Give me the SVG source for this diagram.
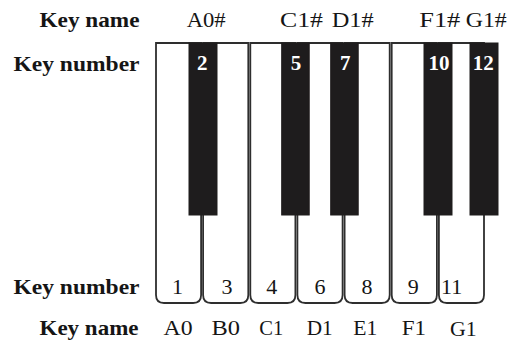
<svg xmlns="http://www.w3.org/2000/svg" width="508" height="343" viewBox="0 0 508 343">
  <style>
    .lbl { font-family: "Liberation Serif", "Times New Roman", serif; font-size: 21px; font-weight: bold; fill: #151515; }
    .note { font-family: "Liberation Serif", "Times New Roman", serif; font-size: 21px; fill: #151515; }
    .num { font-family: "Liberation Serif", "Times New Roman", serif; font-size: 22px; fill: #151515; text-anchor: middle; }
    .bnum { font-family: "Liberation Serif", "Times New Roman", serif; font-size: 21px; font-weight: bold; fill: #ffffff; text-anchor: middle; }
    .white { fill: #ffffff; stroke: #2e2e2e; stroke-width: 1.8; }
    .black { fill: #1e1c1d; stroke: #1e1c1d; stroke-width: 1; }
  </style>

  <!-- row labels -->
  <g id="row-labels">
    <text class="lbl" x="39.5" y="27" textLength="100" lengthAdjust="spacingAndGlyphs">Key name</text>
    <text class="lbl" x="13.5" y="71" textLength="126" lengthAdjust="spacingAndGlyphs">Key number</text>
    <text class="lbl" x="13.5" y="294" textLength="126" lengthAdjust="spacingAndGlyphs">Key number</text>
    <text class="lbl" x="39.5" y="335" textLength="99" lengthAdjust="spacingAndGlyphs">Key name</text>
  </g>

  <!-- white keys: straight top, rounded bottom corners -->
  <g id="key-A0">
    <path class="white" d="M156,43 V295 Q156,303 164,303 H193.1 Q201.1,303 201.1,295 V43 Z"/>
    <text class="num" x="177.5" y="294">1</text>
    <text class="note" x="163.5" y="335" textLength="29" lengthAdjust="spacingAndGlyphs">A0</text>
  </g>
  <g id="key-B0">
    <path class="white" d="M203.1,43 V295 Q203.1,303 211.1,303 H240.3 Q248.3,303 248.3,295 V43 Z"/>
    <text class="num" x="227" y="294">3</text>
    <text class="note" x="211.5" y="335" textLength="28.5" lengthAdjust="spacingAndGlyphs">B0</text>
  </g>
  <g id="key-C1">
    <path class="white" d="M250.3,43 V295 Q250.3,303 258.3,303 H287.4 Q295.4,303 295.4,295 V43 Z"/>
    <text class="num" x="271.7" y="294">4</text>
    <text class="note" x="259.3" y="335" textLength="24" lengthAdjust="spacingAndGlyphs">C1</text>
  </g>
  <g id="key-D1">
    <path class="white" d="M297.4,43 V295 Q297.4,303 305.4,303 H334.6 Q342.6,303 342.6,295 V43 Z"/>
    <text class="num" x="320" y="294">6</text>
    <text class="note" x="306.7" y="335" textLength="26" lengthAdjust="spacingAndGlyphs">D1</text>
  </g>
  <g id="key-E1">
    <path class="white" d="M344.6,43 V295 Q344.6,303 352.6,303 H381.7 Q389.7,303 389.7,295 V43 Z"/>
    <text class="num" x="367" y="294">8</text>
    <text class="note" x="353.3" y="335" textLength="24" lengthAdjust="spacingAndGlyphs">E1</text>
  </g>
  <g id="key-F1">
    <path class="white" d="M391.7,43 V295 Q391.7,303 399.7,303 H428.9 Q436.9,303 436.9,295 V43 Z"/>
    <text class="num" x="413.3" y="294">9</text>
    <text class="note" x="401.7" y="335" textLength="24.3" lengthAdjust="spacingAndGlyphs">F1</text>
  </g>
  <g id="key-G1">
    <path class="white" d="M438.9,43 V295 Q438.9,303 446.9,303 H476 Q484,303 484,295 V43 Z"/>
    <text class="num" x="451.7" y="294">11</text>
    <text class="note" x="450" y="336" textLength="26.7" lengthAdjust="spacingAndGlyphs">G1</text>
  </g>

  <!-- black keys -->
  <g id="key-A0s">
    <rect class="black" x="189" y="43" width="28" height="172"/>
    <text class="bnum" x="202.3" y="70">2</text>
    <text class="note" x="186.7" y="27" textLength="39" lengthAdjust="spacingAndGlyphs">A0#</text>
  </g>
  <g id="key-C1s">
    <rect class="black" x="281.7" y="43" width="27.5" height="172"/>
    <text class="bnum" x="296" y="70">5</text>
    <text class="note" x="280" y="27" textLength="43" lengthAdjust="spacingAndGlyphs">C1#</text>
  </g>
  <g id="key-D1s">
    <rect class="black" x="330.7" y="43" width="27.5" height="172"/>
    <text class="bnum" x="345.3" y="70">7</text>
    <text class="note" x="331.7" y="27" textLength="42" lengthAdjust="spacingAndGlyphs">D1#</text>
  </g>
  <g id="key-F1s">
    <rect class="black" x="424" y="43" width="28" height="172"/>
    <text class="bnum" x="439" y="70">10</text>
    <text class="note" x="419.3" y="27" textLength="41" lengthAdjust="spacingAndGlyphs">F1#</text>
  </g>
  <g id="key-G1s">
    <rect class="black" x="470" y="43" width="28" height="172"/>
    <text class="bnum" x="483.3" y="70">12</text>
    <text class="note" x="465.7" y="27" textLength="41" lengthAdjust="spacingAndGlyphs">G1#</text>
  </g>
</svg>
